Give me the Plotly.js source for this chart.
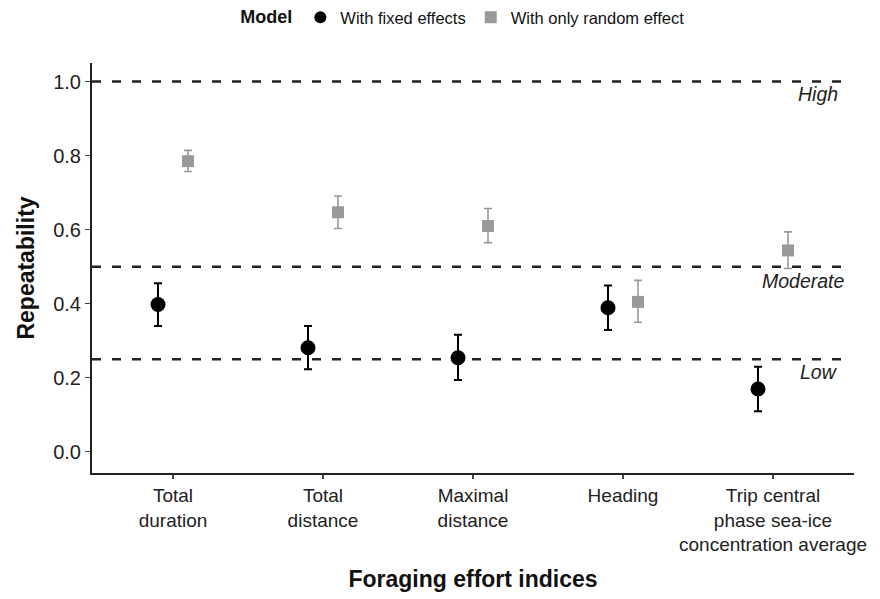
<!DOCTYPE html>
<html>
<head>
<meta charset="utf-8">
<script src="https://cdn.plot.ly/plotly-3.0.1.min.js"></script>
<style>html,body{margin:0;padding:0;background:#fff;}#chart{width:880px;height:599px;}</style>
</head>
<body>
<div id="chart"></div>
<script>
const categories = ["Total<br>duration", "Total<br>distance", "Maximal<br>distance", "Heading", "Trip central<br>phase sea-ice<br>concentration average"];
const fixedMean  = [0.398, 0.281, 0.254, 0.389, 0.170];
const fixedLow   = [0.340, 0.223, 0.194, 0.329, 0.110];
const fixedHigh  = [0.455, 0.340, 0.316, 0.449, 0.230];
const randomMean = [0.785, 0.647, 0.610, 0.405, 0.544];
const randomLow  = [0.757, 0.603, 0.565, 0.350, 0.495];
const randomHigh = [0.814, 0.691, 0.657, 0.463, 0.594];
const thresholds = [1.0, 0.5, 0.25];
const thresholdLabels = ["High", "Moderate", "Low"];
const yTicks = [0, 0.2, 0.4, 0.6, 0.8, 1.0];
const yTickText = ["0.0", "0.2", "0.4", "0.6", "0.8", "1.0"];

const pos = categories.map((c, i) => i + 1);
const dodge = 0.1;

const FONT = "Liberation Sans, Arial, sans-serif";

const traces = [
  {
    type: "scatter", mode: "markers", name: "With fixed effects",
    x: pos.map(p => p - dodge), y: fixedMean,
    marker: {symbol: "circle", size: 15, color: "#000000"},
    error_y: {type: "data", symmetric: false,
      array: fixedHigh.map((h, i) => h - fixedMean[i]),
      arrayminus: fixedLow.map((l, i) => fixedMean[i] - l),
      color: "#000000", thickness: 2, width: 4},
    cliponaxis: false
  },
  {
    type: "scatter", mode: "markers", name: "With only random effect",
    x: pos.map(p => p + dodge), y: randomMean,
    marker: {symbol: "square", size: 12, color: "#999999"},
    error_y: {type: "data", symmetric: false,
      array: randomHigh.map((h, i) => h - randomMean[i]),
      arrayminus: randomLow.map((l, i) => randomMean[i] - l),
      color: "#999999", thickness: 1.6, width: 4},
    cliponaxis: false
  }
];

const labelX = [0.9534, 0.9337, 0.9537];
const labelShift = [-12, -14, -13];

const shapes = thresholds.map(t => ({
  type: "line", xref: "paper", yref: "y", x0: 0, x1: 0.995, y0: t, y1: t,
  line: {color: "#222222", width: 2.4, dash: "9px,11px"}, layer: "below"
}));

const annotations = thresholds.map((t, i) => ({
  xref: "paper", yref: "y", x: labelX[i], y: t, yshift: labelShift[i],
  text: "<i>" + thresholdLabels[i] + "</i>", showarrow: false,
  xanchor: "center", yanchor: "middle",
  font: {family: FONT, size: 19.5, color: "#222222"}
}));

const layout = {
  width: 880, height: 599,
  margin: {l: 92, r: 26, t: 63, b: 126},
  paper_bgcolor: "#ffffff", plot_bgcolor: "#ffffff",
  font: {family: FONT, color: "#222222"},
  showlegend: true,
  legend: {
    orientation: "h", x: 0.488, xanchor: "center", xref: "paper",
    y: 1.0, yanchor: "top", yref: "container",
    title: {text: "<b>Model</b>", font: {family: FONT, size: 18, color: "#111111"}, side: "left"},
    font: {family: FONT, size: 16.5, color: "#111111"},
    itemsizing: "constant", itemwidth: 30, tracegroupgap: 0
  },
  xaxis: {
    range: [0.46, 5.54], tickmode: "array", tickvals: pos, ticktext: categories,
    showgrid: false, zeroline: false, showline: true, linecolor: "#222222", linewidth: 2,
    ticks: "outside", ticklen: 4, tickcolor: "#444444", tickwidth: 1.2,
    tickfont: {family: FONT, size: 19, color: "#222222"},
    title: {text: "<b>Foraging effort indices</b>", font: {family: FONT, size: 23, color: "#111111"}, standoff: 17},
    fixedrange: true
  },
  yaxis: {
    range: [-0.057, 1.05], tickmode: "array", tickvals: yTicks, ticktext: yTickText,
    showgrid: false, zeroline: false, showline: true, linecolor: "#222222", linewidth: 2,
    ticks: "outside", ticklen: 5, tickcolor: "#444444", tickwidth: 1.2,
    tickfont: {family: FONT, size: 20, color: "#222222"},
    title: {text: "<b>Repeatability</b>", font: {family: FONT, size: 23, color: "#111111"}, standoff: 12},
    fixedrange: true
  },
  shapes: shapes,
  annotations: annotations
};

Plotly.newPlot("chart", traces, layout, {displayModeBar: false, staticPlot: true});
</script>
</body>
</html>
